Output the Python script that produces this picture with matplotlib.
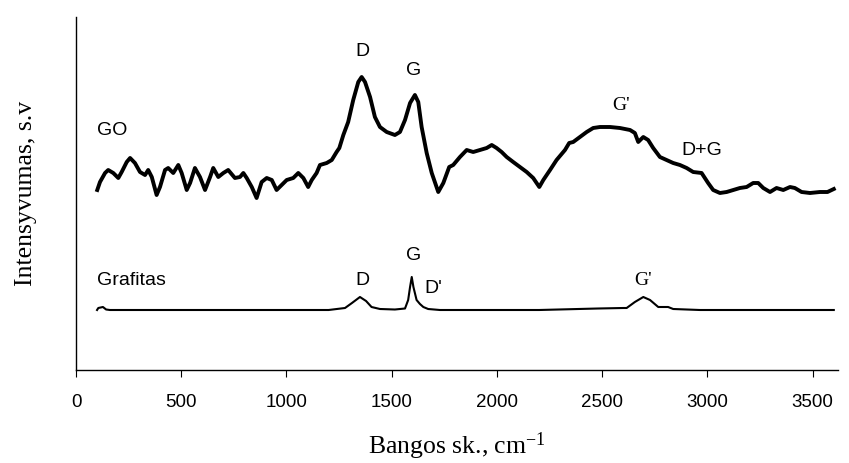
import matplotlib
matplotlib.use("Agg")
import matplotlib.pyplot as plt

# ---- data ----
go_x = [101, 114, 138, 153, 177, 201, 217, 241, 257, 280, 304, 328, 343, 360, 383, 399,
        423, 438, 462, 486, 502, 526, 542, 565, 589, 613, 637, 652, 676, 700, 723, 755,
        779, 795, 811, 835, 858, 882, 906, 930, 953, 977, 1001, 1032, 1056, 1080, 1103,
        1120, 1143, 1159, 1191, 1215, 1238, 1251, 1270, 1293, 1317, 1341, 1357, 1373,
        1397, 1420, 1444, 1476, 1515, 1539, 1563, 1587, 1610, 1626, 1642, 1666, 1690,
        1721, 1745, 1773, 1792, 1824, 1856, 1887, 1919, 1951, 1975, 1998, 2022, 2046,
        2077, 2109, 2141, 2172, 2201, 2220, 2252, 2283, 2323, 2343, 2362, 2394, 2426,
        2457, 2489, 2537, 2584, 2632, 2655, 2671, 2695, 2718, 2742, 2774, 2806, 2837,
        2869, 2901, 2932, 2972, 3003, 3027, 3059, 3091, 3122, 3154, 3186, 3217, 3241,
        3265, 3297, 3328, 3360, 3392, 3415, 3447, 3487, 3534, 3570, 3600]
go_y = [180, 188, 197, 200, 197, 192, 198, 208, 212, 207, 198, 195, 200, 193, 175, 183,
        200, 202, 197, 205, 197, 180, 187, 202, 193, 180, 193, 202, 193, 197, 200, 192,
        193, 197, 192, 183, 172, 188, 192, 190, 180, 185, 190, 192, 197, 192, 183,
        190, 197, 205, 207, 210, 218, 222, 235, 248, 270, 288, 293, 288,
        273, 253, 243, 238, 235, 238, 250, 267, 275, 268, 243, 217, 197,
        178, 187, 203, 205, 213, 220, 218, 220, 222, 225, 222, 218, 213,
        208, 203, 198, 192, 183, 190, 200, 210, 220, 227, 228, 233, 238,
        242, 243, 243, 242, 240, 237, 228, 233, 230, 222, 213, 210, 207,
        205, 202, 198, 197, 187, 180, 177, 178, 180, 182, 183, 187, 187,
        182, 178, 182, 180, 183, 182, 178, 177, 178, 178, 181]

gr_x = [100, 106, 128, 143, 161, 400, 800, 1200, 1278, 1311, 1349, 1378, 1404, 1444,
        1515, 1563, 1578, 1587, 1595, 1603, 1618, 1634, 1650, 1673, 1729, 2200, 2480,
        2600, 2616, 2655, 2695, 2727, 2766, 2813, 2837, 2964, 3300, 3600]
gr_y = [60, 62, 63, 60.5, 60, 60, 60, 60, 62, 67, 73, 69, 63, 61,
        60.5, 61.5, 70, 83, 93, 83, 70, 66, 63, 61, 60, 60, 61.5,
        62, 62, 68, 73, 70, 63, 63, 61, 60, 60, 60]

xticks = [0, 500, 1000, 1500, 2000, 2500, 3000, 3500]

# peak annotations: (text, x, y, family, ha)
ARIAL = "Liberation Sans"
TIMES = "Liberation Serif"
labels = [
    ("GO", 100, 235, ARIAL, "left"),
    ("D", 1363, 314, ARIAL, "center"),
    ("G", 1606, 295, ARIAL, "center"),
    ("G'", 2590, 260, TIMES, "center"),
    ("D+G", 2974, 215, ARIAL, "center"),
    ("Grafitas", 100, 85, ARIAL, "left"),
    ("D", 1363, 85, ARIAL, "center"),
    ("G", 1606, 110, ARIAL, "center"),
    ("D'", 1696, 77, ARIAL, "center"),
    ("G'", 2693, 85, TIMES, "center"),
]

plt.rcParams["mathtext.fontset"] = "custom"
plt.rcParams["mathtext.rm"] = TIMES
plt.rcParams["mathtext.it"] = TIMES

fig = plt.figure(figsize=(8.49, 4.63), dpi=100)
ax = fig.add_axes([76 / 849, 1 - 370 / 463, (838 - 76) / 849, (370 - 17) / 463])

ax.plot(go_x, go_y, color="black", lw=2.8, solid_joinstyle="round")
ax.plot(gr_x, gr_y, color="black", lw=1.5, solid_joinstyle="round")

for txt, x, y, fam, ha in labels:
    ax.text(x, y, txt, family=fam, fontsize=14, ha=ha, va="baseline")

ax.set_xlim(0, 3620)
ax.set_ylim(0, 353)
ax.set_xticks(xticks)
ax.set_xticklabels([str(t) for t in xticks], family=ARIAL, fontsize=13.5)
ax.set_yticks([])
ax.tick_params(axis="x", direction="out", length=5, width=0.8, pad=12)

for s in ["top", "right"]:
    ax.spines[s].set_visible(False)
for s in ["left", "bottom"]:
    ax.spines[s].set_linewidth(1.0)

ax.set_xlabel("Bangos sk., cm$^{\\mathrm{-1}}$", family=TIMES, fontsize=18.5, labelpad=14)
ax.set_ylabel("Intensyvumas, s.v", family=TIMES, fontsize=18.5, va="center")
ax.yaxis.set_label_coords(-0.0656, 0.5)

fig.savefig("out.png", dpi=100, facecolor="white")
